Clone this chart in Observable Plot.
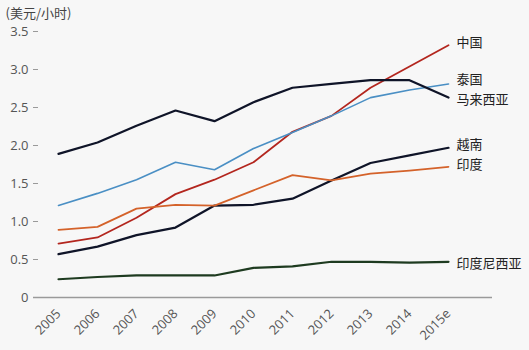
<!DOCTYPE html>
<html>
<head>
<meta charset="utf-8">
<script src="https://cdn.jsdelivr.net/npm/d3@7"></script>
<script src="https://cdn.jsdelivr.net/npm/@observablehq/plot@0.6"></script>
<style>
  html, body { margin: 0; padding: 0; background: #f7f7f7; }
  #chart svg { display: block; }
</style>
</head>
<body>
<div id="chart"></div>
<script>
const years = ["2005","2006","2007","2008","2009","2010","2011","2012","2013","2014","2015e"];
const countries = ["中国","泰国","马来西亚","越南","印度","印度尼西亚"];
const china     = [0.71,0.79,1.05,1.36,1.55,1.78,2.18,2.39,2.76,3.04,3.32];
const thailand  = [1.21,1.37,1.55,1.78,1.68,1.96,2.17,2.39,2.63,2.73,2.81];
const malaysia  = [1.89,2.04,2.26,2.46,2.32,2.57,2.76,2.81,2.86,2.86,2.63];
const vietnam   = [0.57,0.67,0.82,0.92,1.21,1.22,1.30,1.54,1.77,1.87,1.97];
const india     = [0.89,0.93,1.17,1.22,1.21,1.41,1.61,1.54,1.63,1.67,1.72];
const indonesia = [0.24,0.27,0.29,0.29,0.29,0.39,0.41,0.47,0.47,0.46,0.47];
const yTicks = [0,0.5,1.0,1.5,2.0,2.5,3.0,3.5];
const unitLabel = "(美元/小时)";

const seriesValues = [china, thailand, malaysia, vietnam, india, indonesia];
const colors = ["#b3261e","#4a8fc4","#0f1428","#0f1428","#d4622a","#1e3b20"];
const widths = [1.8,1.6,2.2,2.2,1.8,2.2];
const labelDy = [-2,-4,2,-3,-2,2];

const rows = [];
countries.forEach((c, i) => {
  years.forEach((y, j) => rows.push({country: c, year: y, value: seriesValues[i][j]}));
});

const marks = [
  Plot.ruleY([0], {stroke: "#9a9a9a", strokeWidth: 1.5}),
  Plot.axisY({ticks: yTicks, tickSize: 5, tickPadding: 5, dx: 5, stroke: "#9a9a9a",
    tickFormat: d => d === 0 ? "0" : d.toFixed(1),
    fontSize: 13, fill: "#555", label: null}),
  Plot.axisX({tickSize: 0, tickRotate: -45, tickPadding: 8, dy: 6, fontSize: 13, fill: "#555", label: null}),
  Plot.text([unitLabel], {frameAnchor: "top-left", text: d => d, dx: -28, dy: -23,
    textAnchor: "start", fontSize: 13, fill: "#444",
    fontFamily: "'Noto Sans CJK SC', 'Open Sans', sans-serif"})
];
countries.forEach((c, i) => {
  const data = rows.filter(r => r.country === c);
  marks.push(Plot.line(data, {x: "year", y: "value", stroke: colors[i], strokeWidth: widths[i]}));
  marks.push(Plot.text(data.slice(-1), {x: "year", y: "value", text: "country",
    textAnchor: "start", dx: 8, dy: labelDy[i], fontSize: 13, fill: "#222",
    fontFamily: "'Noto Sans CJK SC', sans-serif"}));
});

const chart = Plot.plot({
  width: 529,
  height: 350,
  marginTop: 31,
  marginBottom: 53,
  marginLeft: 33,
  marginRight: 37,
  style: {background: "#f7f7f7", fontFamily: "'Open Sans', sans-serif", overflow: "visible"},
  x: {type: "point", domain: years, range: [54, 451], padding: 0},
  y: {domain: [0, 3.5]},
  marks
});
document.getElementById("chart").appendChild(chart);
</script>
</body>
</html>
